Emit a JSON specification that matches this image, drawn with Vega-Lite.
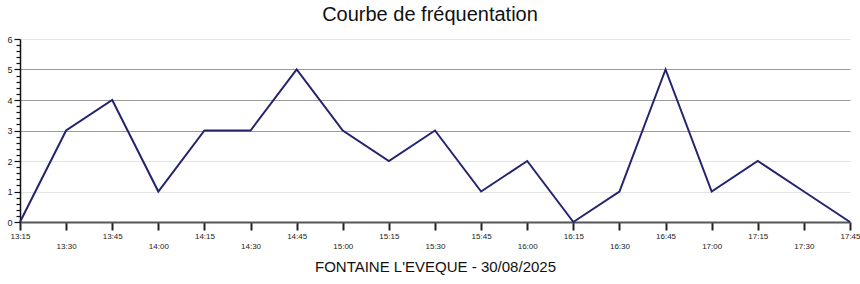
{
  "$schema": "https://vega.github.io/schema/vega-lite/v6.json",
  "autosize": "none",
  "width": 830,
  "height": 183,
  "padding": {"left": 20, "top": 39, "right": 10, "bottom": 62},
  "background": "white",
  "config": {"font": "Liberation Sans", "view": {"stroke": null}},
  "title": {"text": "Courbe de fréquentation", "fontSize": 20, "fontWeight": "normal", "color": "#111", "anchor": "middle", "dx": -5, "offset": 10, "font": "Liberation Sans"},
  "data": {"values": [
    {"time": "2025-08-30T13:15:00", "count": 0},
    {"time": "2025-08-30T13:30:00", "count": 3},
    {"time": "2025-08-30T13:45:00", "count": 4},
    {"time": "2025-08-30T14:00:00", "count": 1},
    {"time": "2025-08-30T14:15:00", "count": 3},
    {"time": "2025-08-30T14:30:00", "count": 3},
    {"time": "2025-08-30T14:45:00", "count": 5},
    {"time": "2025-08-30T15:00:00", "count": 3},
    {"time": "2025-08-30T15:15:00", "count": 2},
    {"time": "2025-08-30T15:30:00", "count": 3},
    {"time": "2025-08-30T15:45:00", "count": 1},
    {"time": "2025-08-30T16:00:00", "count": 2},
    {"time": "2025-08-30T16:15:00", "count": 0},
    {"time": "2025-08-30T16:30:00", "count": 1},
    {"time": "2025-08-30T16:45:00", "count": 5},
    {"time": "2025-08-30T17:00:00", "count": 1},
    {"time": "2025-08-30T17:15:00", "count": 2},
    {"time": "2025-08-30T17:30:00", "count": 1},
    {"time": "2025-08-30T17:45:00", "count": 0}
  ]},
  "mark": {"type": "line", "color": "#24246e", "strokeWidth": 2},
  "encoding": {
    "x": {"field": "time", "type": "temporal",
      "scale": {"domain": [{"year": 2025, "month": 8, "date": 30, "hours": 13, "minutes": 15}, {"year": 2025, "month": 8, "date": 30, "hours": 17, "minutes": 45}], "nice": false},
      "axis": {
        "title": "FONTAINE L'EVEQUE - 30/08/2025",
        "titleFontSize": 15, "titleFontWeight": "normal", "titleColor": "#111", "titlePadding": 9, "titleFont": "Liberation Sans",
        "values": [
          {"year": 2025, "month": 8, "date": 30, "hours": 13, "minutes": 15},
          {"year": 2025, "month": 8, "date": 30, "hours": 13, "minutes": 30},
          {"year": 2025, "month": 8, "date": 30, "hours": 13, "minutes": 45},
          {"year": 2025, "month": 8, "date": 30, "hours": 14, "minutes": 0},
          {"year": 2025, "month": 8, "date": 30, "hours": 14, "minutes": 15},
          {"year": 2025, "month": 8, "date": 30, "hours": 14, "minutes": 30},
          {"year": 2025, "month": 8, "date": 30, "hours": 14, "minutes": 45},
          {"year": 2025, "month": 8, "date": 30, "hours": 15, "minutes": 0},
          {"year": 2025, "month": 8, "date": 30, "hours": 15, "minutes": 15},
          {"year": 2025, "month": 8, "date": 30, "hours": 15, "minutes": 30},
          {"year": 2025, "month": 8, "date": 30, "hours": 15, "minutes": 45},
          {"year": 2025, "month": 8, "date": 30, "hours": 16, "minutes": 0},
          {"year": 2025, "month": 8, "date": 30, "hours": 16, "minutes": 15},
          {"year": 2025, "month": 8, "date": 30, "hours": 16, "minutes": 30},
          {"year": 2025, "month": 8, "date": 30, "hours": 16, "minutes": 45},
          {"year": 2025, "month": 8, "date": 30, "hours": 17, "minutes": 0},
          {"year": 2025, "month": 8, "date": 30, "hours": 17, "minutes": 15},
          {"year": 2025, "month": 8, "date": 30, "hours": 17, "minutes": 30},
          {"year": 2025, "month": 8, "date": 30, "hours": 17, "minutes": 45}
        ],
        "format": "%H:%M",
        "labelExpr": "(minutes(datum.value) % 30 == 15) ? datum.label : ['', datum.label]",
        "labelLineHeight": 10,
        "labelFontSize": 8,
        "labelColor": "#222",
        "labelAngle": 0,
        "labelPadding": 2,
        "labelOverlap": false,
        "labelFlush": false,
        "grid": false,
        "domainColor": "#555",
        "domainWidth": 2,
        "tickSize": 8,
        "tickWidth": 2,
        "tickColor": "#222"
      }
    },
    "y": {"field": "count", "type": "quantitative",
      "scale": {"domain": [0, 6], "nice": false, "zero": true},
      "axis": {"title": null,
        "values": [0,0.2,0.4,0.6,0.8,1,1.2,1.4,1.6,1.8,2,2.2,2.4,2.6,2.8,3,3.2,3.4,3.6,3.8,4,4.2,4.4,4.6,4.8,5,5.2,5.4,5.6,5.8,6],
        "labelExpr": "abs(datum.value - round(datum.value)) < 0.01 ? format(round(datum.value), 'd') : ''",
        "labelFontSize": 9, "labelColor": "#222", "labelPadding": 2, "labelOverlap": false,
        "domainColor": "#111", "domainWidth": 1.5,
        "tickSize": {"condition": {"test": "abs(datum.value - round(datum.value)) < 0.01", "value": 6}, "value": 4},
        "tickWidth": 1.2,
        "tickColor": "#111",
        "grid": true,
        "gridColor": {"condition": {"test": "datum.value >= 2.99 && datum.value <= 5.01", "value": "#9a9a9a"}, "value": "#e4e4e4"},
        "gridOpacity": {"condition": {"test": "abs(datum.value - round(datum.value)) < 0.01", "value": 1}, "value": 0},
        "gridWidth": 1}
    }
  }
}
